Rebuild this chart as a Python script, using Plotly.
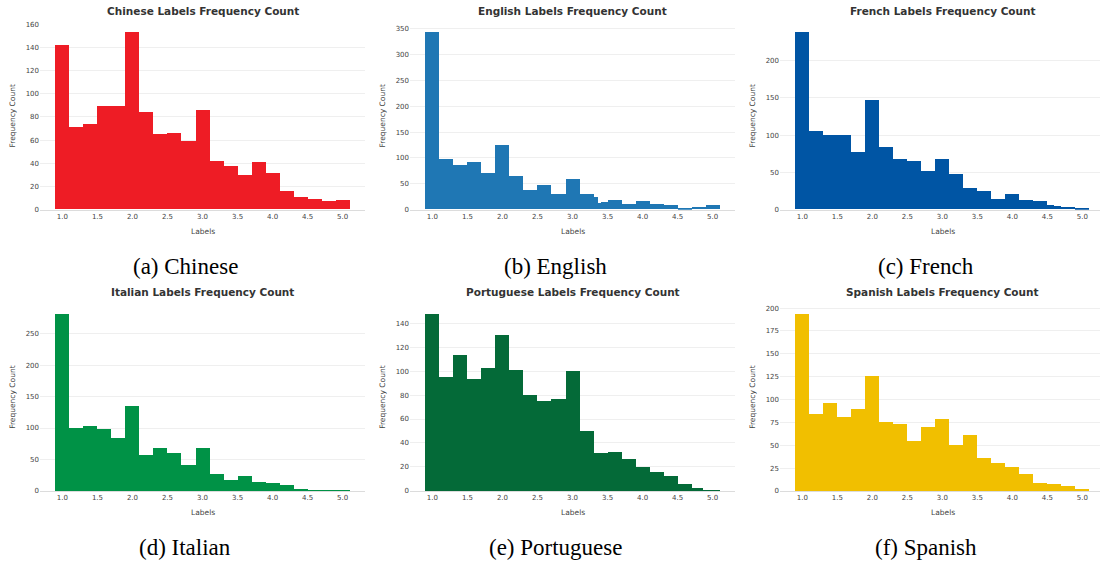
import plotly.graph_objects as go

# ---------------- data ----------------
uniform_edges = [0.9, 1.1, 1.3, 1.5, 1.7, 1.9, 2.1, 2.3, 2.5, 2.7, 2.9, 3.1,
                 3.3, 3.5, 3.7, 3.9, 4.1, 4.3, 4.5, 4.7, 4.9, 5.1]

chinese_edges = uniform_edges
chinese_counts = [142, 71, 74, 89, 89, 153, 84, 65, 66, 59, 86, 42, 37, 30, 41, 31, 16, 11, 9, 7, 8]

english_edges = [0.9, 1.1, 1.3, 1.5, 1.7, 1.9, 2.1, 2.3, 2.5, 2.7, 2.9, 3.1, 3.3,
                 3.36, 3.4, 3.5, 3.7, 3.9, 4.1, 4.3, 4.5, 4.7, 4.9, 5.1]
english_counts = [343, 98, 85, 92, 71, 125, 65, 37, 48, 29, 58, 29, 24, 12, 14,
                  18, 10, 16, 10, 8, 1, 4, 8]

french_edges = [0.9, 1.1, 1.3, 1.5, 1.7, 1.9, 2.1, 2.3, 2.5, 2.7, 2.9, 3.1, 3.3,
                3.5, 3.7, 3.9, 4.1, 4.3, 4.5, 4.6, 4.7, 4.9, 5.1]
french_counts = [238, 105, 100, 100, 77, 147, 84, 68, 65, 52, 68, 48, 28, 25, 14,
                 20, 12, 11, 6, 4, 3, 1]

italian_edges = uniform_edges
italian_counts = [282, 101, 104, 99, 85, 135, 58, 69, 61, 42, 69, 28, 17, 24, 14, 13, 10, 4, 2, 2, 2]

portuguese_edges = [0.9, 1.1, 1.3, 1.5, 1.7, 1.9, 2.1, 2.3, 2.5, 2.7, 2.9, 3.1, 3.3,
                    3.5, 3.7, 3.9, 4.1, 4.3, 4.5, 4.7, 4.86, 5.1]
portuguese_counts = [148, 95, 114, 94, 103, 130, 101, 80, 75, 77, 100, 50, 32, 33,
                     27, 20, 16, 13, 6, 3, 1]

spanish_edges = uniform_edges
spanish_counts = [194, 84, 97, 81, 90, 126, 76, 74, 55, 70, 79, 50, 62, 36, 31, 27, 19, 9, 8, 6, 2]

languages = ["Chinese", "English", "French", "Italian", "Portuguese", "Spanish"]
captions = ["(a) Chinese", "(b) English", "(c) French", "(d) Italian", "(e) Portuguese", "(f) Spanish"]
colors = ["#EE1C25", "#1F77B4", "#0055A4", "#009246", "#046A38", "#F1BF00"]
y_dticks = [20, 50, 50, 50, 20, 25]
x_tick_vals = [1.0, 1.5, 2.0, 2.5, 3.0, 3.5, 4.0, 4.5, 5.0]
all_edges = [chinese_edges, english_edges, french_edges, italian_edges, portuguese_edges, spanish_edges]
all_counts = [chinese_counts, english_counts, french_counts, italian_counts, portuguese_counts, spanish_counts]

# ---------------- layout geometry (pixels) ----------------
W, H = 1100, 567
col_px = [(40, 365), (410, 735), (780, 1100)]
row_px = [(20.6, 209.3), (305.5, 494.0)]
x_ranges = [[0.68, 5.32], [0.68, 5.32], [0.68, 0.68 + 320 / 70.0]]


def px_x(p):
    return p / W


def px_y(p):
    return 1 - p / H


fig = go.Figure()
annotations = []
FONT = "DejaVu Sans"

for i, lang in enumerate(languages):
    r, c = divmod(i, 3)
    edges = all_edges[i]
    counts = all_counts[i]
    centers = [(edges[k] + edges[k + 1]) / 2 for k in range(len(counts))]
    widths = [edges[k + 1] - edges[k] for k in range(len(counts))]
    ax = "" if i == 0 else str(i + 1)
    fig.add_trace(go.Bar(
        x=centers, y=counts, width=widths,
        marker=dict(color=colors[i], line=dict(width=0)),
        xaxis="x" + ax, yaxis="y" + ax, showlegend=False,
        name=lang,
    ))
    x0, x1 = col_px[c]
    yt, yb = row_px[r]
    ymax = max(counts) * 1.05
    fig.update_layout(**{
        "xaxis" + ax: dict(
            domain=[px_x(x0), px_x(x1)], range=x_ranges[c], anchor="y" + ax,
            tickvals=x_tick_vals, tickformat=".1f", showgrid=False,
            zeroline=False, showline=True, linecolor="#dcdcdc", linewidth=1,
            ticks="", tickfont=dict(family=FONT, size=7, color="#444444"),
        ),
        "yaxis" + ax: dict(
            domain=[px_y(yb), px_y(yt)], range=[0, ymax], anchor="x" + ax,
            dtick=y_dticks[i], tick0=0, showgrid=True, gridcolor="#efefef",
            gridwidth=1, zeroline=False, showline=False, ticks="",
            tickfont=dict(family=FONT, size=7, color="#444444"),
        ),
    })
    cx = x0 + 325 / 2
    # subplot title
    annotations.append(dict(
        text="<b>%s Labels Frequency Count</b>" % lang, x=px_x(cx), y=px_y(yt - 12.5),
        xref="paper", yref="paper", showarrow=False, xanchor="center", yanchor="middle",
        font=dict(family=FONT, size=10.5, color="#333333"),
    ))
    # x axis title
    annotations.append(dict(
        text="Labels", x=px_x(cx), y=px_y(yb + 22), xref="paper", yref="paper",
        showarrow=False, xanchor="center", yanchor="middle",
        font=dict(family=FONT, size=7.5, color="#444444"),
    ))
    # y axis title
    annotations.append(dict(
        text="Frequency Count", x=px_x(x0 - 27), y=px_y((yt + yb) / 2), xref="paper", yref="paper",
        showarrow=False, xanchor="center", yanchor="middle", textangle=-90,
        font=dict(family=FONT, size=7.5, color="#444444"),
    ))
    # caption
    annotations.append(dict(
        text=captions[i], x=px_x(185 + 370.5 * c), y=px_y(yb + 57), xref="paper", yref="paper",
        showarrow=False, xanchor="center", yanchor="middle",
        font=dict(family="Liberation Serif", size=23, color="#000000"),
    ))

fig.update_layout(
    width=W, height=H, margin=dict(l=0, r=0, t=0, b=0),
    paper_bgcolor="white", plot_bgcolor="white", bargap=0,
    annotations=annotations,
)

fig.write_html(
    "out.html",
    config={"displayModeBar": False},
    post_script="document.body.style.margin='0';document.body.style.padding='0';"
                "document.documentElement.style.overflow='hidden';",
)
